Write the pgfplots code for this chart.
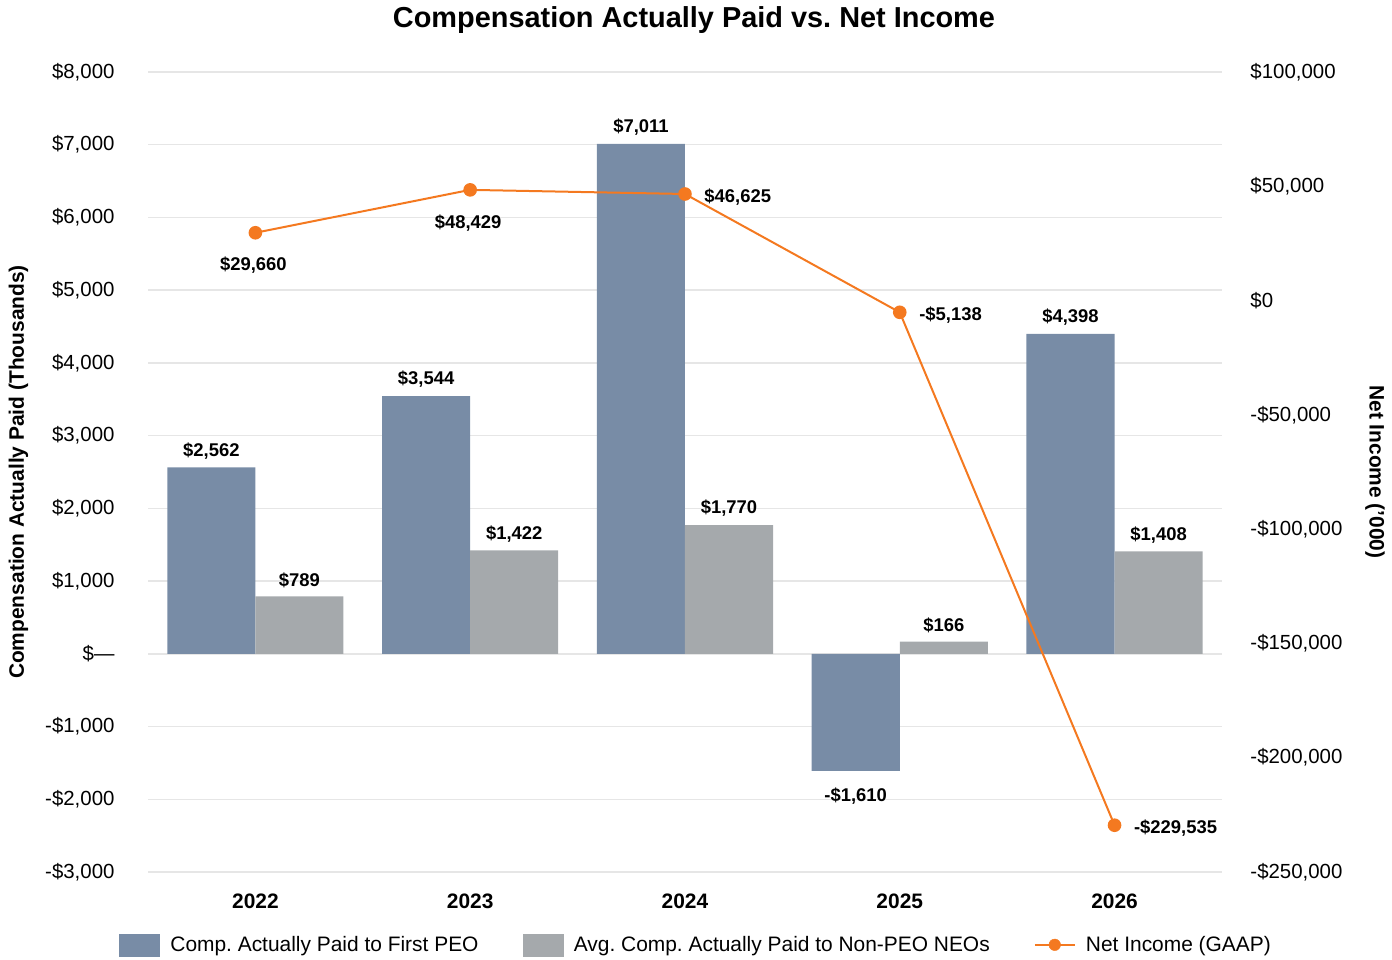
\documentclass[border=0pt]{standalone}
\usepackage{fontspec}
\setmainfont{Liberation Sans}
\usepackage{pgfplots}
\pgfplotsset{compat=1.18}
\frenchspacing

\definecolor{peoblue}{HTML}{788CA6}
\definecolor{neogray}{HTML}{A5A9AC}
\definecolor{niorange}{HTML}{F47920}
\definecolor{gridgray}{HTML}{E6E6E6}

\newcommand{\fs}[1]{\fontsize{#1}{#1}\selectfont}

\pgfplotsset{
  base/.style={
    scale only axis, width=1074bp, height=800bp,
    xmin=-0.5, xmax=4.5, clip=false,
    axis line style={draw=none}, major tick length=0pt,
    scaled y ticks=false,
  },
}

\begin{document}
\begin{tikzpicture}
% Left axis: compensation bars (thousands)
\begin{axis}[base, name=ax1,
  ymin=-3000, ymax=8000,
  ytick={-3000,-2000,...,8000},
  yticklabels={{-\$3,000},{-\$2,000},{-\$1,000},{\$—},{\$1,000},{\$2,000},{\$3,000},{\$4,000},{\$5,000},{\$6,000},{\$7,000},{\$8,000}},
  yticklabel style={font=\fs{20.5}, xshift=-30bp},
  xtick={0,...,4}, xticklabels={2022,2023,2024,2025,2026},
  xticklabel style={font=\bfseries\fs{21}, yshift=-18bp},
  ymajorgrids, grid style={gridgray, line width=1.5bp},
  ylabel={Compensation Actually Paid (Thousands)},
  ylabel style={font=\bfseries\fs{21}, at={(axis description cs:-0.1205,0.5)}, anchor=center},
  title={Compensation Actually Paid vs. Net Income},
  title style={font=\bfseries\fs{29}, at={(axis description cs:0.5,1)}, anchor=center, yshift=46bp, xshift=9bp},
  ybar, bar width=0.41,
  nodes near coords, point meta=explicit symbolic,
  every node near coord/.append style={font=\bfseries\fs{18.5}, text=black, yshift=5bp},
]
\addplot[fill=peoblue, draw=none, bar shift=-0.205] coordinates {
  (0,2562) [\$2,562] (1,3544) [\$3,544] (2,7011) [\$7,011] (3,-1610) [] (4,4398) [\$4,398]};
\addplot[fill=neogray, draw=none, bar shift=0.205] coordinates {
  (0,789) [\$789] (1,1422) [\$1,422] (2,1770) [\$1,770] (3,166) [\$166] (4,1408) [\$1,408]};
% label under the negative bar
\addplot[draw=none, fill=none, bar shift=-0.205,
  every node near coord/.append style={anchor=north, yshift=-18bp}] coordinates {
  (3,-1610) [-\$1,610]};
\end{axis}

% Right axis: net income line
\begin{axis}[base,
  ymin=-250000, ymax=100000,
  axis y line*=right, axis x line=none,
  ytick={-250000,-200000,...,100000},
  yticklabels={{-\$250,000},{-\$200,000},{-\$150,000},{-\$100,000},{-\$50,000},{\$0},{\$50,000},{\$100,000}},
  yticklabel style={font=\fs{20.5}, xshift=25bp, anchor=west},
  ylabel={Net Income ('000)},
  ylabel style={font=\bfseries\fs{21}, at={(axis description cs:1.1425,0.5)}, anchor=center, rotate=180},
  legend style={at={(axis description cs:0.5102,-0.091)}, anchor=center, draw=none, fill=none,
    font=\fs{21}, legend columns=3,
    /tikz/every even column/.append style={column sep=42bp}},
  legend cell align=left,
]
\addplot[niorange, line width=2bp, mark=*, mark size=5.8bp,
  mark options={fill=niorange, draw=niorange}, forget plot] coordinates {
  (0,29660) (1,48429) (2,46625) (3,-5138) (4,-229535)};
\addplot[draw=none, mark=none, forget plot, nodes near coords, point meta=explicit symbolic,
  every node near coord/.append style={font=\bfseries\fs{18.5}, anchor=north, yshift=-21bp, xshift=-2bp}] coordinates {
  (0,29660) [\$29,660] (1,48429) [\$48,429]};
\addplot[draw=none, mark=none, forget plot, nodes near coords, point meta=explicit symbolic,
  every node near coord/.append style={font=\bfseries\fs{18.5}, anchor=west, xshift=16bp, yshift=-3bp}] coordinates {
  (2,46625) [\$46,625] (3,-5138) [-\$5,138] (4,-229535) [-\$229,535]};
\addlegendimage{legend image code/.code={\fill[peoblue] (0bp,-11bp) rectangle (40bp,11bp); \path (49bp,0bp);}}
\addlegendentry{Comp. Actually Paid to First PEO}
\addlegendimage{legend image code/.code={\fill[neogray] (0bp,-11bp) rectangle (40bp,11bp); \path (49bp,0bp);}}
\addlegendentry{Avg. Comp. Actually Paid to Non-PEO NEOs}
\addlegendimage{legend image code/.code={\draw[niorange, line width=2bp] (0bp,0bp) -- (40bp,0bp); \fill[niorange] (20bp,0bp) circle (5.8bp); \path (49bp,0bp);}}
\addlegendentry{Net Income (GAAP)}
\end{axis}

\pgfresetboundingbox
\path (ax1.south west) ++(-148bp,-88bp) rectangle ++(1392bp,960bp);
\end{tikzpicture}
\end{document}
